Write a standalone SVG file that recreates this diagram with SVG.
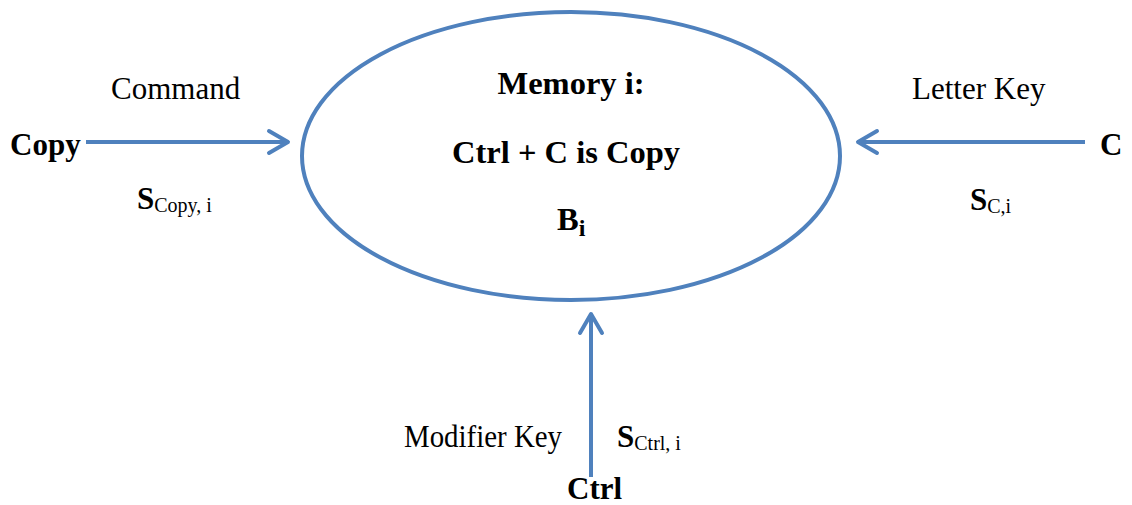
<svg xmlns="http://www.w3.org/2000/svg" width="1132" height="505" viewBox="0 0 1132 505">
<style>
  text { font-family: "Liberation Serif", "Times New Roman", serif; fill: #000; }
  .r { font-size: 31px; }
  .b { font-size: 31px; font-weight: bold; }
  .bc { font-size: 32.5px; font-weight: bold; }
  .sub { font-size: 20px; font-weight: normal; }
  .subb { font-size: 24px; font-weight: bold; }
  .conn { stroke: #4F81BD; stroke-width: 4; fill: none; }
  .head { stroke: #4F81BD; stroke-width: 4; fill: none; stroke-linecap: round; stroke-linejoin: round; }
</style>
<rect width="1132" height="505" fill="#fff"/>
<g id="memory">
  <ellipse cx="571" cy="156" rx="269" ry="144" fill="none" stroke="#4F81BD" stroke-width="4"/>
  <text class="bc" x="571" y="94" text-anchor="middle">Memory i:</text>
  <text class="bc" x="566" y="163" text-anchor="middle">Ctrl + C is Copy</text>
  <text class="bc" x="557" y="230">B<tspan class="subb" dy="6">i</tspan></text>
</g>
<g id="copy">
  <text class="b" x="10" y="155">Copy</text>
  <text class="r" x="111" y="99">Command</text>
  <text class="b" x="137" y="209">S<tspan class="sub" dy="3">Copy, i</tspan></text>
</g>
<g id="c">
  <text class="b" x="1100" y="155">C</text>
  <text class="r" x="912" y="99">Letter Key</text>
  <text class="b" x="970" y="210">S<tspan class="sub" dy="3">C,i</tspan></text>
</g>
<g id="ctrl">
  <text class="b" x="567" y="499">Ctrl</text>
  <text class="r" x="404" y="447" textLength="158" lengthAdjust="spacingAndGlyphs">Modifier Key</text>
  <text class="b" x="617" y="447">S<tspan class="sub" dy="3">Ctrl, i</tspan></text>
</g>
<g id="connectors">
  <line class="conn" x1="86" y1="142" x2="287" y2="142"/>
  <polyline class="head" points="269,131 288,142 269,153"/>
  <line class="conn" x1="1085" y1="142" x2="859" y2="142"/>
  <polyline class="head" points="877,131 858,142 877,153"/>
  <line class="conn" x1="591" y1="477" x2="591" y2="315"/>
  <polyline class="head" points="580,333 591,314 602,333"/>
</g>
</svg>
